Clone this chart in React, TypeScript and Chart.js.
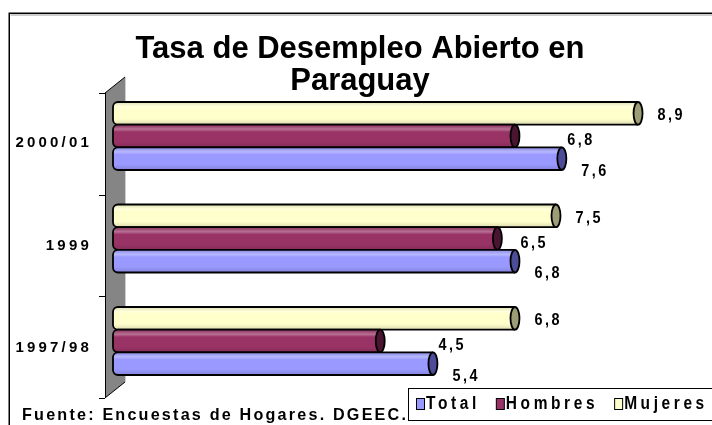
import React, { useEffect, useRef } from 'react';
import { Chart, registerables } from 'chart.js';

Chart.register(...registerables);

// ---------- data ----------
const categories = ['2000/01', '1999', '1997/98'];
const mujeres = [8.9, 7.5, 6.8];
const hombres = [6.8, 6.5, 4.5];
const total = [7.6, 6.8, 5.4];
const titleLines = ['Tasa de Desempleo Abierto en', 'Paraguay'];
const sourceNote = 'Fuente: Encuestas de Hogares. DGEEC.';
const legendOrder = ['Total', 'Hombres', 'Mujeres'];

// ---------- styles ----------
const FONT = "'Liberation Sans', Arial, Helvetica, sans-serif";
const BASE: Record<string, string> = { Mujeres: '#FFFFCC', Hombres: '#993366', Total: '#9999FF' };
const CAP: Record<string, string> = { Mujeres: '#9E9E76', Hombres: '#4A1530', Total: '#4C4C98' };
const LABEL_DY: Record<string, number> = { Mujeres: 2.5, Hombres: 5, Total: 12.5 };

function mix(hex: string, target: number, t: number) {
  const n = parseInt(hex.slice(1), 16);
  const r = (n >> 16) & 255, g = (n >> 8) & 255, b = n & 255;
  const f = (c: number) => Math.round(c + (target - c) * t);
  return `rgb(${f(r)},${f(g)},${f(b)})`;
}

const fmt = (v: number) => v.toFixed(1).replace('.', ',');

function leftRounded(ctx: CanvasRenderingContext2D, x: number, y: number, w: number, h: number, r: number) {
  ctx.beginPath();
  ctx.moveTo(x + w, y);
  ctx.lineTo(x + r, y);
  ctx.arcTo(x, y, x, y + r, r);
  ctx.lineTo(x, y + h - r);
  ctx.arcTo(x, y + h, x + r, y + h, r);
  ctx.lineTo(x + w, y + h);
}

// draws horizontally condensed text, returns its drawn width
function drawText(
  ctx: CanvasRenderingContext2D, text: string, x: number, y: number,
  size: number, spacing: number, sx: number, baseline: CanvasTextBaseline = 'middle'
) {
  ctx.save();
  ctx.font = `bold ${size}px ${FONT}`;
  (ctx as any).letterSpacing = `${spacing / sx}px`;
  ctx.textAlign = 'left';
  ctx.textBaseline = baseline;
  ctx.fillStyle = '#000';
  ctx.translate(x, y);
  ctx.scale(sx, 1);
  ctx.fillText(text, 0, 0);
  const w = ctx.measureText(text).width * sx;
  ctx.restore();
  return w;
}

const cylinderPlugin = {
  id: 'cylinders',
  beforeDraw(chart: any) {
    const ctx = chart.ctx as CanvasRenderingContext2D;
    ctx.save();
    ctx.fillStyle = '#ffffff';
    ctx.fillRect(0, 0, chart.width, chart.height);
    ctx.strokeStyle = '#000';
    ctx.lineWidth = 1.5;
    ctx.strokeRect(9.25, 13.25, 760, 460);
    ctx.strokeStyle = '#9a9a9a';
    ctx.lineWidth = 1;
    ctx.beginPath();
    ctx.moveTo(10.5, 15);
    ctx.lineTo(712, 15);
    ctx.stroke();
    ctx.restore();
  },
  beforeDatasetsDraw(chart: any) {
    const ctx = chart.ctx as CanvasRenderingContext2D;
    const { left, top, bottom } = chart.chartArea;
    const yScale = chart.scales.y;
    const fx = left - 16;
    const ftop = top + 8.25;
    const fbot = bottom + 5.75;
    const dx = 20, dy = -16;
    ctx.save();
    ctx.fillStyle = '#858585';
    ctx.beginPath();
    ctx.moveTo(fx, ftop);
    ctx.lineTo(fx + dx, ftop + dy);
    ctx.lineTo(fx + dx, fbot + dy);
    ctx.lineTo(fx, fbot);
    ctx.closePath();
    ctx.fill();
    ctx.strokeStyle = '#cfcfcf';
    ctx.lineWidth = 1;
    ctx.beginPath();
    ctx.moveTo(fx + dx + 0.5, ftop + dy);
    ctx.lineTo(fx + dx + 0.5, fbot + dy);
    ctx.stroke();
    ctx.strokeStyle = '#000';
    ctx.lineWidth = 1;
    ctx.beginPath();
    ctx.moveTo(fx + 0.5, ftop);
    ctx.lineTo(fx + 0.5, fbot);
    ctx.moveTo(fx, ftop);
    ctx.lineTo(fx + dx, ftop + dy);
    ctx.moveTo(fx, fbot);
    ctx.lineTo(fx + dx, fbot + dy);
    // category boundary ticks, mapped from the scale onto the front plane
    for (let k = 0; k <= categories.length; k++) {
      const py = yScale.getPixelForValue(k - 0.5);
      const t = (py - top) / (bottom - top);
      const y = Math.round(ftop + t * (fbot - ftop)) + 0.5;
      ctx.moveTo(fx - 6, y);
      ctx.lineTo(fx, y);
    }
    ctx.stroke();
    ctx.restore();
  },
  beforeDatasetDraw() {
    return false;
  },
  afterDatasetsDraw(chart: any) {
    const ctx = chart.ctx as CanvasRenderingContext2D;
    ctx.save();
    chart.data.datasets.forEach((ds: any, i: number) => {
      const meta = chart.getDatasetMeta(i);
      const base = BASE[ds.label];
      const cap = CAP[ds.label];
      meta.data.forEach((el: any) => {
        const { x, y, base: b0, height } = el.getProps(['x', 'y', 'base', 'height'], true);
        const yTop = y - height / 2;
        const h = height;
        const rx = 4.5;
        const x0 = b0 - 8;
        const xc = x - rx;
        const g = ctx.createLinearGradient(0, yTop, 0, yTop + h);
        g.addColorStop(0, mix(base, 0, 0.12));
        g.addColorStop(0.2, mix(base, 255, 0.3));
        g.addColorStop(0.32, base);
        g.addColorStop(0.75, base);
        g.addColorStop(1, mix(base, 0, 0.14));
        leftRounded(ctx, x0, yTop, xc - x0, h, 5);
        ctx.fillStyle = g;
        ctx.fill();
        ctx.strokeStyle = '#000';
        ctx.lineWidth = 1.8;
        ctx.stroke();
        ctx.beginPath();
        ctx.ellipse(xc, y, rx, h / 2, 0, 0, Math.PI * 2);
        ctx.fillStyle = cap;
        ctx.fill();
        ctx.stroke();
      });
    });
    ctx.restore();
    // letter spacing for the y-axis tick labels drawn next (ticks.z = 1)
    (ctx as any).letterSpacing = '3.2px';
  },
  afterDraw(chart: any) {
    const ctx = chart.ctx as CanvasRenderingContext2D;
    (ctx as any).letterSpacing = '0px';
    // data labels
    const totalIdx = chart.data.datasets.findIndex((d: any) => d.label === 'Total');
    const totalMeta = chart.getDatasetMeta(totalIdx);
    chart.data.datasets.forEach((ds: any, i: number) => {
      const meta = chart.getDatasetMeta(i);
      meta.data.forEach((el: any, j: number) => {
        let lx = el.x + 15;
        if (ds.label === 'Hombres') lx = Math.max(el.x + 15, totalMeta.data[j].x + 1);
        drawText(ctx, fmt(ds.data[j]), lx, el.y + LABEL_DY[ds.label], 16, 2.5, 0.9);
      });
    });
    // source note
    drawText(ctx, sourceNote, 22, 420, 17, 2.2, 0.95, 'alphabetic');
    // legend box
    ctx.save();
    ctx.fillStyle = '#fff';
    ctx.fillRect(408.5, 388.5, 320, 32);
    ctx.strokeStyle = '#000';
    ctx.lineWidth = 1;
    ctx.strokeRect(408.5, 388.5, 320, 32);
    let lx = 416;
    legendOrder.forEach((name) => {
      ctx.fillStyle = BASE[name];
      ctx.fillRect(lx + 0.5, 398.5, 8, 11);
      ctx.strokeStyle = '#000';
      ctx.strokeRect(lx + 0.5, 398.5, 8, 11);
      const w = drawText(ctx, name, lx + 10, 404, 18, 3.6, 0.86);
      lx = lx + 10 + w + 16;
    });
    ctx.restore();
  },
};

export default function App() {
  const ref = useRef<HTMLCanvasElement>(null);
  useEffect(() => {
    if (!ref.current) return;
    const chart = new Chart(ref.current, {
      type: 'bar',
      data: {
        labels: categories,
        datasets: [
          { label: 'Mujeres', data: mujeres, backgroundColor: BASE.Mujeres },
          { label: 'Hombres', data: hombres, backgroundColor: BASE.Hombres },
          { label: 'Total', data: total, backgroundColor: BASE.Total },
        ],
      },
      options: {
        animation: false,
        responsive: false,
        indexAxis: 'y',
        events: [],
        layout: { padding: { top: 0, left: 13, right: 5, bottom: 32.75 } },
        datasets: { bar: { categoryPercentage: 0.663, barPercentage: 1 } },
        scales: {
          x: { display: false, min: 0, max: 10 },
          y: {
            display: true,
            grid: { display: false },
            border: { display: false },
            ticks: {
              font: { family: FONT, size: 15, weight: 'bold' },
              color: '#000',
              padding: 21,
              labelOffset: 7,
              z: 1,
            },
            afterFit: (s: any) => {
              s.width = 108;
            },
          },
        },
        plugins: {
          legend: { display: false },
          tooltip: { enabled: false },
          title: {
            display: true,
            text: titleLines,
            color: '#000',
            font: { family: FONT, size: 31, weight: 'bold', lineHeight: 32 / 31 },
            padding: { top: 33, bottom: -12.25 },
          },
        },
      } as any,
      plugins: [cylinderPlugin as any],
    });
    return () => chart.destroy();
  }, []);
  return (
    <div style={{ position: 'absolute', left: 0, top: 0, width: 712, height: 425 }}>
      <canvas ref={ref} width={712} height={425} style={{ display: 'block', width: 712, height: 425 }} />
    </div>
  );
}
